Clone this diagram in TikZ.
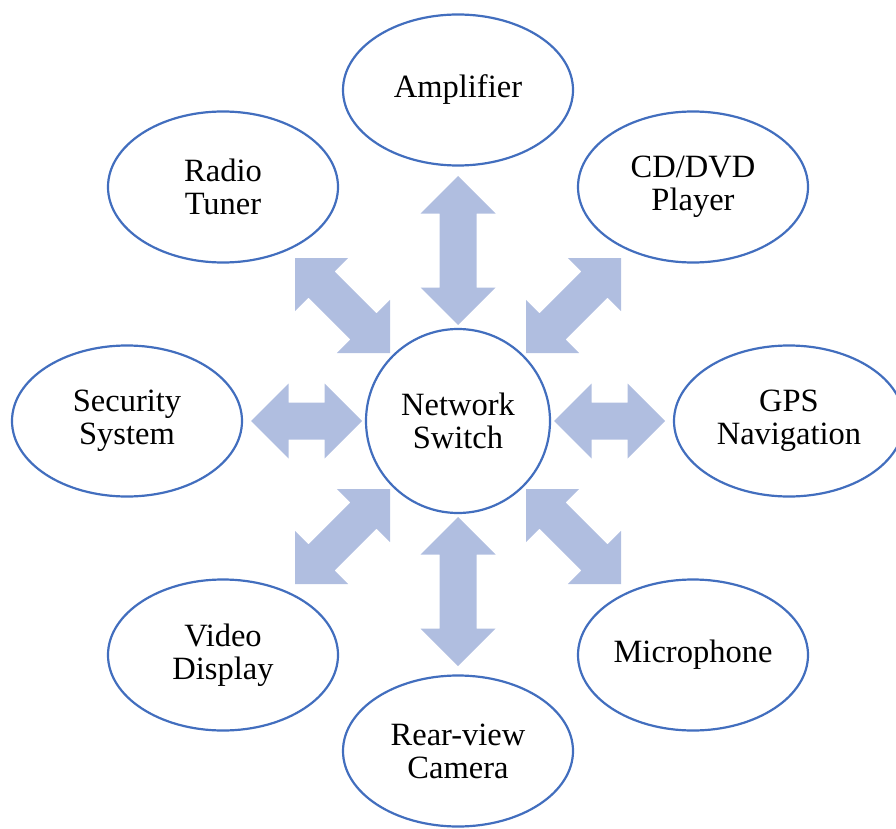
\documentclass[tikz,border=0pt]{standalone}
\usepackage{fontspec}
\setmainfont{Liberation Serif}
\usetikzlibrary{shapes.geometric,calc}
\definecolor{edgeblue}{RGB}{66,110,190}
\definecolor{arrowblue}{RGB}{176,190,224}
\newcommand{\blockarrow}[2]{%
  \fill[arrowblue] (#1)
   -- ($(#1)!37.5pt!(#2)!37.5pt!90:(#2)$)
   -- ($(#1)!37.5pt!(#2)!18.5pt!90:(#2)$)
   -- ($(#2)!37.5pt!(#1)!18.5pt!-90:(#1)$)
   -- ($(#2)!37.5pt!(#1)!37.5pt!-90:(#1)$)
   -- (#2)
   -- ($(#2)!37.5pt!(#1)!37.5pt!90:(#1)$)
   -- ($(#2)!37.5pt!(#1)!18.5pt!90:(#1)$)
   -- ($(#1)!37.5pt!(#2)!18.5pt!-90:(#2)$)
   -- ($(#1)!37.5pt!(#2)!37.5pt!-90:(#2)$)
   -- cycle;}
\begin{document}
\begin{tikzpicture}[x=1pt,y=-1pt,
  label font/.style={font=\fontsize{32.5}{33}\selectfont},
  device/.style={ellipse, draw=edgeblue, line width=2.2pt, fill=white,
    minimum width=230pt, minimum height=151pt, inner sep=0pt, align=center, label font},
  hub/.style={circle, draw=edgeblue, line width=2.2pt, fill=white,
    minimum size=184pt, inner sep=0pt, align=center, label font}]
\useasboundingbox (0,0) rectangle (896,829);

% nodes
\node[hub] (sw) at (458,421) {Network\\Switch};
\node[device] (amp) at (458,90) {Amplifier};
\node[device] (rad) at (223,187) {Radio\\Tuner};
\node[device] (cd) at (693,187) {CD/DVD\\Player};
\node[device] (sec) at (127,421) {Security\\System};
\node[device] (gps) at (789,421) {GPS\\Navigation};
\node[device] (vid) at (223,655) {Video\\Display};
\node[device] (mic) at (693,655) {Microphone};
\node[device] (cam) at (458,751) {Rear-view\\Camera};

% arrow end points
\coordinate (uS) at (458,325); \coordinate (uE) at (458,176);
\coordinate (dS) at (458,517); \coordinate (dE) at (458,666);
\coordinate (lS) at (362,421); \coordinate (lE) at (251,421);
\coordinate (rS) at (554,421); \coordinate (rE) at (665,421);
\coordinate (ulS) at (390,353); \coordinate (ulE) at (295,258);
\coordinate (urS) at (526,353); \coordinate (urE) at (621,258);
\coordinate (llS) at (390,489); \coordinate (llE) at (295,584);
\coordinate (lrS) at (526,489); \coordinate (lrE) at (621,584);

\blockarrow{uS}{uE}
\blockarrow{dS}{dE}
\blockarrow{lS}{lE}
\blockarrow{rS}{rE}
\blockarrow{ulS}{ulE}
\blockarrow{urS}{urE}
\blockarrow{llS}{llE}
\blockarrow{lrS}{lrE}
\end{tikzpicture}
\end{document}
